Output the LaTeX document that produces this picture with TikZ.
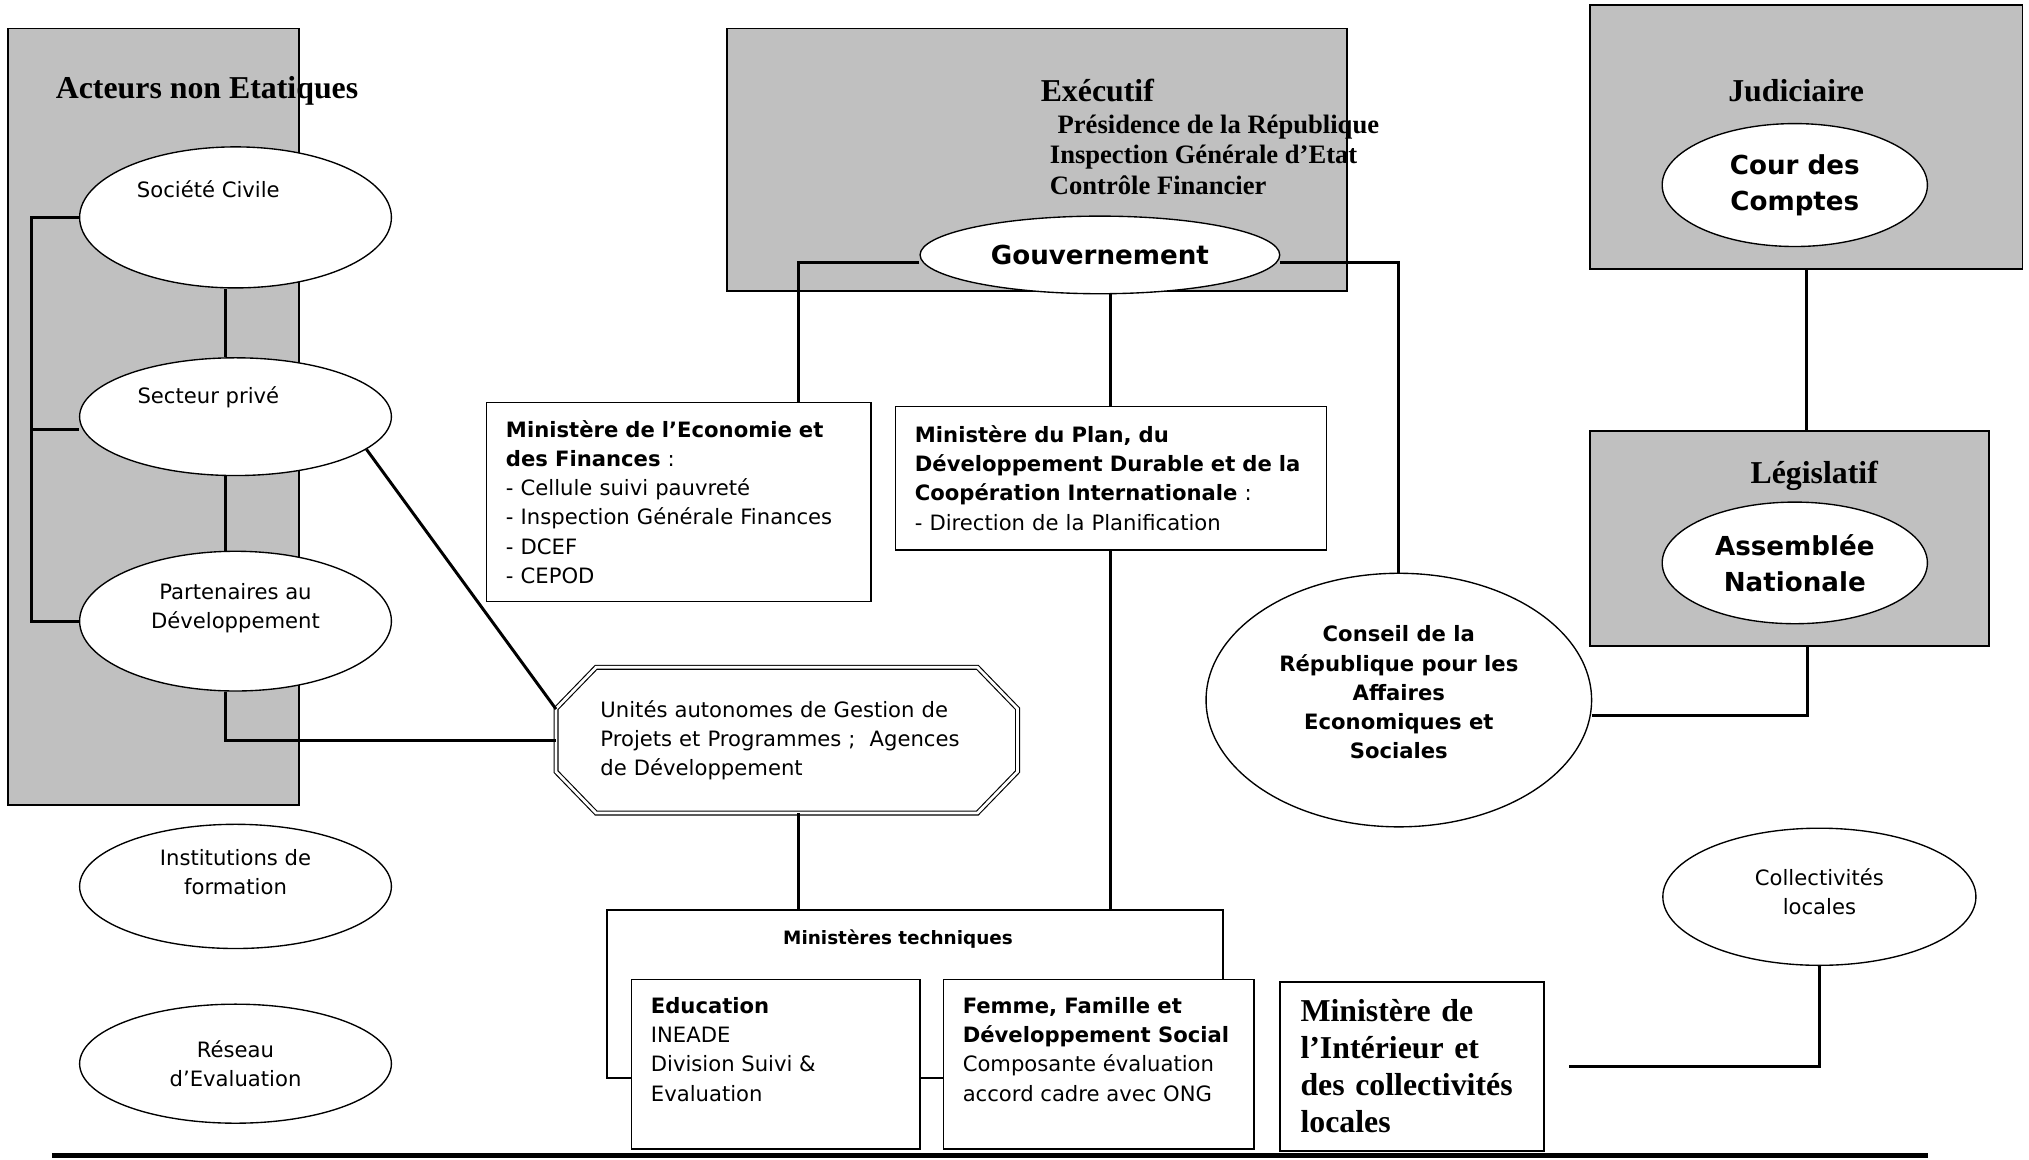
\documentclass[tikz,border=0pt]{standalone}
\usepackage{fontspec}
\setmainfont{Liberation Serif}
\setsansfont{DejaVu Sans}
\usetikzlibrary{shapes.geometric}
\definecolor{panelgrey}{HTML}{C0C0C0}

\begin{document}
\begin{tikzpicture}[x=0.02cm,y=-0.02cm,
  panel/.style={draw=black,fill=panelgrey,line width=0.8pt,inner sep=0pt},
  oval/.style={shape=ellipse,draw=black,fill=white,line width=0.6pt,inner sep=0pt,align=center,font=\sffamily\fontsize{9.3}{12.8}\selectfont},
  bigoval/.style={oval,font=\sffamily\bfseries\fontsize{11.5}{15.9}\selectfont},
  minbox/.style={shape=rectangle,draw=black,fill=white,line width=0.7pt,inner xsep=0.3cm,inner ysep=0.28cm,align=left,font=\sffamily\fontsize{9.3}{12.8}\selectfont},
  heading/.style={inner sep=0pt,font=\bfseries\fontsize{14}{16}\selectfont},
  link/.style={draw=black,line width=1.3pt},
  every label/.style={align=center,font=\sffamily\fontsize{9.3}{12.8}\selectfont}]
\useasboundingbox (0,0) rectangle (1568,896);

% grey panels
\node[panel,minimum width=4.5cm,minimum height=12cm] (acteurs) at (118.5,322) {};
\node[panel,minimum width=9.58cm,minimum height=4.06cm] (exec) at (801.5,123.5) {};
\node[panel,minimum width=6.68cm,minimum height=4.08cm] (jud) at (1396,106) {};
\node[panel,minimum width=6.16cm,minimum height=3.32cm] (leg) at (1383,416) {};

\node[heading] (acteurstitle) at (160,70) {Acteurs non Etatiques};
\node[heading] (exectitle) at (848,70) {Exécutif};
\node[heading,anchor=west,align=left,font=\bfseries\fontsize{11.7}{13.4}\selectfont] (execlist) at (811,119.5) {\hspace{0.12cm}Présidence de la République\\Inspection Générale d’Etat\\Contrôle Financier};
\node[heading] (judtitle) at (1388,70) {Judiciaire};
\node[heading] (legtitle) at (1402,368) {Législatif};

% non state actors
\node[oval,minimum width=4.82cm,minimum height=2.18cm,label={[xshift=-0.42cm,yshift=0.44cm]center:Société Civile}] (soc) at (182,168) {};
\node[oval,minimum width=4.82cm,minimum height=1.82cm,label={[xshift=-0.42cm,yshift=0.3cm]center:Secteur privé}] (sect) at (182,322) {};
\node[oval,minimum width=4.82cm,minimum height=2.16cm,label={[yshift=0.2cm]center:Partenaires au\\Développement}] (part) at (182,480) {};
\node[oval,minimum width=4.82cm,minimum height=1.92cm,label={[yshift=0.22cm]center:Institutions de\\formation}] (inst) at (182,685) {};
\node[oval,minimum width=4.82cm,minimum height=1.84cm] (reseau) at (182,822) {Réseau\\d’Evaluation};

\node[inner sep=0pt,minimum width=7.12cm,minimum height=2.24cm,text width=5.76cm,align=left,font=\sffamily\fontsize{9.3}{12.8}\selectfont] (unit) at (608,572) {Unités autonomes de Gestion de\\Projets et Programmes ;~ Agences\\de Développement};
\draw[double,double distance=1.2pt,line width=0.5pt] ([xshift=0.62cm]unit.north west) -- ([xshift=-0.62cm]unit.north east)
  -- ([yshift=-0.64cm]unit.north east) -- ([yshift=0.64cm]unit.south east) -- ([xshift=-0.62cm]unit.south east)
  -- ([xshift=0.62cm]unit.south west) -- ([yshift=0.64cm]unit.south west) -- ([yshift=-0.64cm]unit.north west) -- cycle;

% state
\node[bigoval,minimum width=5.56cm,minimum height=1.2cm] (gov) at (850,197) {Gouvernement};
\node[bigoval,minimum width=4.1cm,minimum height=1.9cm] (cour) at (1387,143) {Cour des\\Comptes};
\node[bigoval,minimum width=4.1cm,minimum height=1.88cm] (assem) at (1387,435) {Assemblée\\Nationale};

\node[minbox,minimum height=2.96cm,text width=5.34cm] (eco) at (524.5,388) {\textbf{Ministère de l’Economie et}\\\textbf{des Finances} :\\- Cellule suivi pauvreté\\- Inspection Générale Finances\\- DCEF\\- CEPOD};
\node[minbox,minimum height=2.22cm,text width=6.06cm] (plan) at (858.5,369.5) {\textbf{Ministère du Plan, du}\\\textbf{Développement Durable et de la}\\\textbf{Coopération Internationale} :\\- Direction de la Planification};

\node[oval,minimum width=5.96cm,minimum height=3.92cm,label={[yshift=0.12cm,font=\sffamily\bfseries\fontsize{9.3}{12.8}\selectfont]center:Conseil de la\\République pour les\\Affaires\\Economiques et\\Sociales}] (cons) at (1081,541) {};
\node[oval,minimum width=4.84cm,minimum height=2.12cm,label={[yshift=0.08cm]center:Collectivités\\locales}] (coll) at (1406,693) {};

\node[minbox,minimum width=9.52cm,minimum height=2.6cm,label={[anchor=north,xshift=-0.26cm,yshift=-0.2cm,font=\sffamily\bfseries\fontsize{8.1}{10}\selectfont]north:Ministères techniques}] (tech) at (707,768) {};
\node[minbox] (edu) at (599.5,822.5) {\parbox[c][2.06cm][t]{3.86cm}{\textbf{Education}\\INEADE\\Division Suivi \&\\Evaluation}};
\node[minbox] (femme) at (849,822.5) {\parbox[c][2.06cm][t]{4.2cm}{\textbf{Femme, Famille et}\\\textbf{Développement Social}\\Composante évaluation\\accord cadre avec ONG}};
\node[minbox,minimum height=2.6cm,text width=3.44cm,inner xsep=0.32cm,font=\bfseries\fontsize{14}{16.2}\selectfont] (int) at (1091,824) {Ministère de\\l’Intérieur et\\des collectivités\\locales};

% links
\draw[link] (soc.west) -- ++(-37,0) |- (part.west);
\draw[link] ([yshift=-0.2cm]sect.west) -- ++(-37,0);
\draw[link] ([xshift=-0.16cm]soc.south) -- ([xshift=-0.16cm]sect.north);
\draw[link] ([xshift=-0.16cm]sect.south) -- ([xshift=-0.16cm]part.north);
\draw[link] ([xshift=-0.16cm]part.south) |- (unit.west);
\draw[link] (sect.-14) -- ([yshift=0.48cm]unit.west);
\draw[link] ([xshift=0.18cm]unit.south) -- ([xshift=0.18cm]unit.south |- tech.north);
\draw[link] ([yshift=-0.12cm]gov.west) -| ([xshift=1.85cm]eco.north);
\draw[link] (gov.south -| plan.north) -- (plan.north);
\draw[link] (plan.south) -- (plan.south |- tech.north);
\draw[link] ([yshift=-0.12cm]gov.east) -| (cons.north);
\draw[link] ([yshift=-0.24cm]cons.east) -| ([xshift=0.28cm]leg.south);
\draw[link] (jud.south) -- (jud.south |- leg.north);
\draw[link] (coll.south) |- ([xshift=0.38cm]int.east);

\draw[line width=2pt] (40,893) -- (1490,893);
\end{tikzpicture}
\end{document}
